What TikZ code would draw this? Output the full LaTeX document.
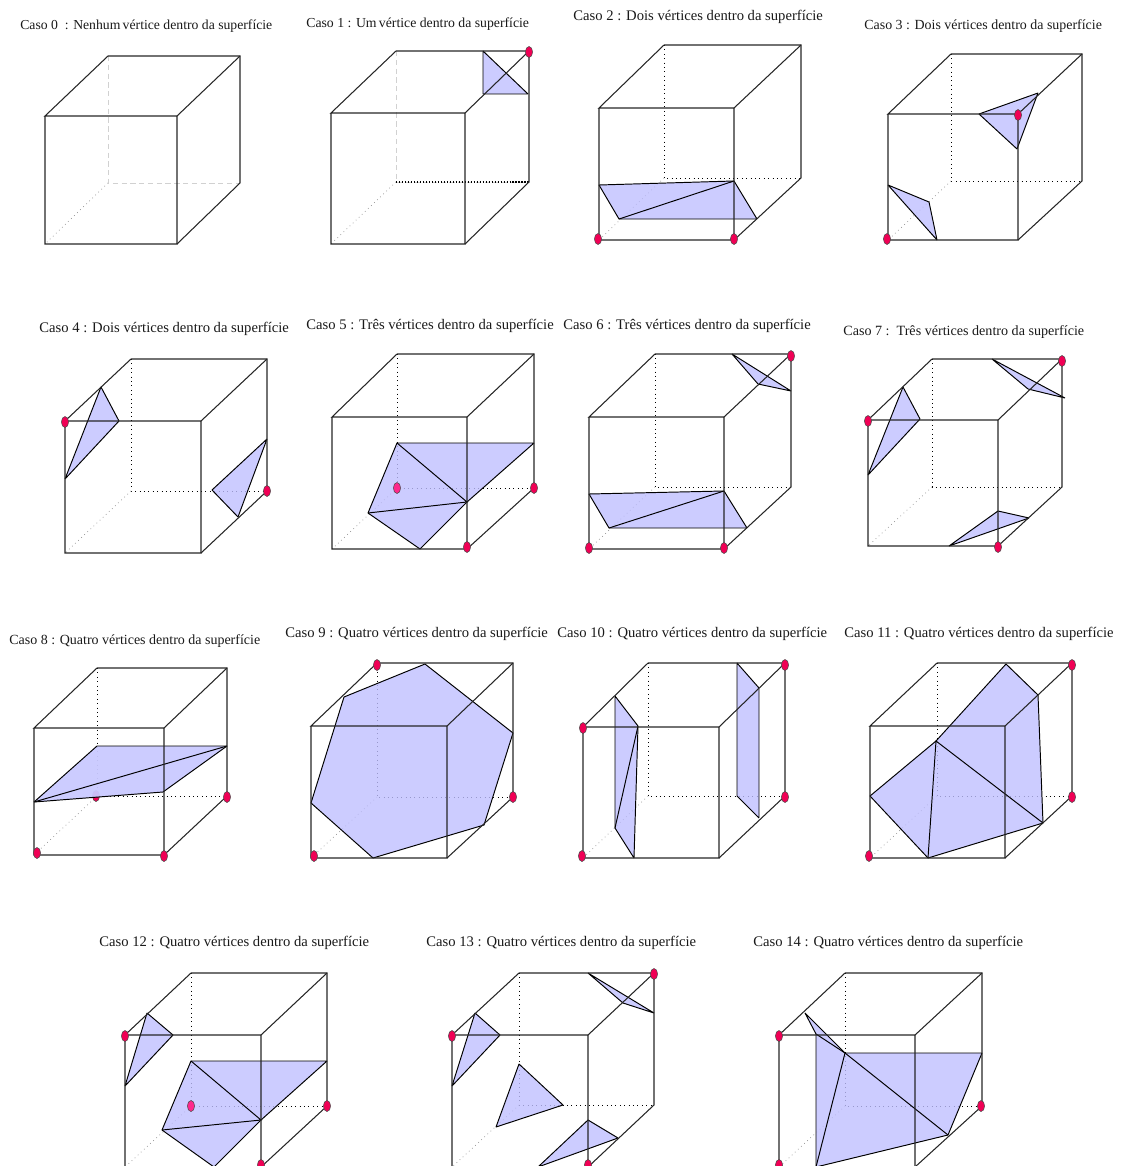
\documentclass[tikz,border=0pt]{standalone}
\usepackage{fontspec}
\setmainfont{Liberation Serif}
\definecolor{patchBlue}{RGB}{191,191,255}
\definecolor{dotRed}{RGB}{240,0,85}
\definecolor{dotPink}{RGB}{255,40,140}
% one cube: front top-left, front bottom-right, back top-left, back bottom-right, patches, dots
\newcommand{\drawcube}[7][hiddenline]{
  \coordinate (ftl) at (#2); \coordinate (fbr) at (#3);
  \coordinate (btl) at (#4); \coordinate (bbr) at (#5);
  \coordinate (ftr) at (fbr |- ftl); \coordinate (fbl) at (ftl |- fbr);
  \coordinate (btr) at (bbr |- btl); \coordinate (bbl) at (btl |- bbr);
  \draw[#1] (btl) -- (bbl) -- (bbr);
  \draw[diagline] (bbl) -- (fbl);
  #6
  \draw[cubeline] (btl) -- (ftl) -- (ftr) -- (fbr) -- (fbl) -- (ftl);
  \draw[cubeline] (btl) -- (btr) -- (bbr) -- (fbr);
  \draw[cubeline] (ftr) -- (btr);
  #7
}
\newcommand{\vertexdot}[2][dotRed]{\draw[vertexstyle, fill=#1] (#2) ellipse [x radius=3.6, y radius=5.5];}
\begin{document}
\begin{tikzpicture}[x=0.02cm, y=-0.02cm,
  caso/.style={anchor=west, inner sep=0pt, text=black!90, font=\fontsize{#1}{10}\selectfont},
  caso/.default=8.33,
  cubeline/.style={line width=0.6pt, black!85},
  hiddenline/.style={line width=0.5pt, dotted},
  faintline/.style={line width=0.35pt, black!18, dash pattern=on 3pt off 2pt},
  diagline/.style={line width=0.4pt, black!45, dotted},
  patch/.style={draw=black, line width=0.55pt, line join=bevel, fill=patchBlue, fill opacity=0.8},
  seam/.style={line width=0.55pt, black},
  vertexstyle/.style={draw=black!70, line width=0.3pt}
]
\path[use as bounding box, clip] (0,0) rectangle (1122,1166);

% Linha 1
\node[caso=7.8] (c0) at (20,26) {Caso 0~~: Nenhum\,vértice dentro da superfície};
\drawcube[faintline]{45,116}{177,244}{108,56}{240,183}{}{}

\node[caso=7.83] (c1) at (306,24) {Caso 1 : Um\,vértice dentro da superfície};
\drawcube[faintline]{331,113}{465,244}{396,51}{529,182}{
  \draw[line width=0.7pt, densely dotted] (bbl) -- (bbr);
  \draw[patch] (483,51) -- (483,94) -- (528,94) -- cycle;
}{\vertexdot{529,52}}

\node[caso] (c2) at (573,17) {Caso 2 : Dois vértices dentro da superfície};
\drawcube{599,108}{734,240}{664,45}{801,178}{
  \draw[patch] (599,185) -- (734,181) -- (757,219) -- (619,219) -- cycle;
  \draw[seam] (619,219) -- (734,181);
}{\vertexdot{598,239}\vertexdot{734,239}}

\node[caso=7.93] (c3) at (864,26) {Caso 3 : Dois vértices dentro da superfície};
\drawcube{888,114}{1018,240}{951,54}{1082,181}{
  \draw[patch] (979,114) -- (1038,93) -- (1017,149) -- cycle;
  \draw[patch] (888,185) -- (929,202) -- (937,240) -- cycle;
}{\vertexdot{1018,115}\vertexdot{887,239}}

% Linha 2
\node[caso] (c4) at (39,329) {Caso 4 : Dois vértices dentro da superfície};
\drawcube{65,421}{201,553}{131,359}{267,491}{
  \draw[patch] (101,387) -- (119,421) -- (65,479) -- cycle;
  \draw[patch] (267,439) -- (212,490) -- (238,517) -- cycle;
}{\vertexdot{65,422}\vertexdot{267,491}}

\node[caso] (c5) at (306,326) {Caso 5 : Três vértices dentro da superfície};
\drawcube{332,417}{467,549}{397,354}{534,488}{
  \draw[patch] (397,443) -- (534,443) -- (467,502) -- (420,549) -- (368,513) -- cycle;
  \draw[seam] (397,443) -- (467,502) -- (368,513);
}{\vertexdot[dotPink]{397,488}\vertexdot{534,488}\vertexdot{467,547}}

\node[caso] (c6) at (563,326) {Caso 6 : Três vértices dentro da superfície};
\drawcube{589,417}{724,549}{655,354}{791,487}{
  \draw[patch] (732,354) -- (791,391) -- (758,384) -- cycle;
  \draw[patch] (589,494) -- (724,491) -- (747,528) -- (609,528) -- cycle;
  \draw[seam] (609,528) -- (724,491);
}{\vertexdot{791,356}\vertexdot{589,548}\vertexdot{724,548}}

\node[caso=8.03] (c7) at (843,332) {Caso 7 :~~Três vértices dentro da superfície};
\drawcube{868,420}{998,546}{932,359}{1062,487}{
  \draw[patch] (992,359) -- (1065,398) -- (1028,389) -- cycle;
  \draw[patch] (903,387) -- (920,419) -- (868,475) -- cycle;
  \draw[patch] (998,511) -- (1029,518) -- (949,546) -- cycle;
}{\vertexdot{868,421}\vertexdot{1062,361}\vertexdot{998,547}}

% Linha 3
\node[caso=7.96] (c8) at (9,641) {Caso 8 : Quatro vértices dentro da superfície};
\drawcube{34,728}{164,855}{97,668}{227,796}{
  \vertexdot{96,796}
  \draw[patch, fill=patchBlue!84!white, fill opacity=0.95] (34,802) -- (97,746) -- (227,746) -- (163,792) -- cycle;
  \draw[seam] (34,802) -- (227,746);
}{\vertexdot{227,797}\vertexdot{37,853}\vertexdot{164,856}}

\node[caso] (c9) at (285,634) {Caso 9 : Quatro vértices dentro da superfície};
\drawcube{311,726}{447,858}{377,663}{513,797}{
  \draw[patch] (425,664) -- (513,733) -- (484,825) -- (373,858) -- (311,803) -- (344,697) -- cycle;
}{\vertexdot{377,665}\vertexdot{513,797}\vertexdot{314,856}}

\node[caso] (c10) at (557,634) {Caso 10 : Quatro vértices dentro da superfície};
\drawcube{583,727}{719,858}{648,663}{785,796}{
  \draw[patch] (615,696) -- (638,726) -- (634,858) -- (615,828) -- cycle;
  \draw[seam] (638,726) -- (615,828);
  \draw[patch] (737,663) -- (759,688) -- (759,818) -- (737,796) -- cycle;
}{\vertexdot{583,728}\vertexdot{785,665}\vertexdot{785,797}\vertexdot{582,856}}

\node[caso] (c11) at (844,634) {Caso 11 : Quatro vértices dentro da superfície};
\drawcube{870,726}{1005,858}{937,663}{1072,796}{
  \draw[patch] (1006,664) -- (1038,695) -- (1043,823) -- (928,858) -- (870,796) -- (936,741) -- cycle;
  \draw[seam] (928,858) -- (936,741) -- (1043,823);
}{\vertexdot{1072,665}\vertexdot{1072,797}\vertexdot{869,856}}

% Linha 4
\node[caso] (c12) at (99,943) {Caso 12 : Quatro vértices dentro da superfície};
\drawcube{125,1035}{261,1167}{191,973}{327,1106}{
  \draw[patch] (147,1013) -- (173,1035) -- (125,1086) -- cycle;
  \draw[patch] (191,1061) -- (327,1061) -- (261,1120) -- (214,1167) -- (162,1130) -- cycle;
  \draw[seam] (191,1061) -- (261,1120) -- (162,1130);
}{\vertexdot{125,1036}\vertexdot[dotPink]{191,1106}\vertexdot{327,1106}\vertexdot{261,1165}}

\node[caso] (c13) at (426,943) {Caso 13 : Quatro vértices dentro da superfície};
\drawcube{452,1035}{588,1167}{519,973}{654,1105}{
  \draw[patch] (588,973) -- (654,1013) -- (623,1003) -- cycle;
  \draw[patch] (475,1013) -- (500,1035) -- (452,1086) -- cycle;
  \draw[patch] (519,1064) -- (563,1105) -- (496,1127) -- cycle;
  \draw[patch] (588,1120) -- (618,1138) -- (538,1167) -- cycle;
}{\vertexdot{452,1036}\vertexdot{654,974}\vertexdot{588,1165}}

\node[caso] (c14) at (753,943) {Caso 14 : Quatro vértices dentro da superfície};
\drawcube{779,1035}{915,1167}{845,973}{982,1106}{
  \draw[patch] (805,1013) -- (845,1053) -- (982,1053) -- (948,1135) -- (816,1167) -- (816,1034) -- cycle;
  \draw[seam] (816,1034) -- (845,1053) -- (948,1135);
  \draw[seam] (845,1053) -- (816,1167);
}{\vertexdot{779,1036}\vertexdot{981,1106}\vertexdot{779,1165}}

\end{tikzpicture}
\end{document}
